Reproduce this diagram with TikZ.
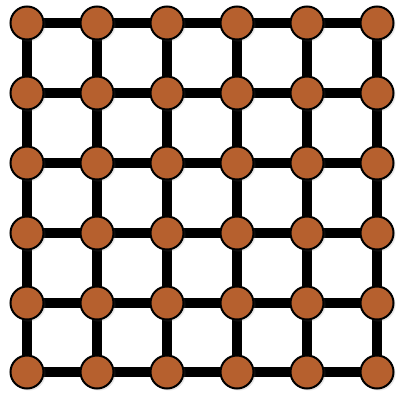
\documentclass[tikz,border=0pt]{standalone}
\usetikzlibrary{backgrounds,shadows}
\definecolor{nodefill}{RGB}{182,96,46}
\tikzset{
  gridnode/.style={circle, draw=black, line width=2pt, fill=nodefill, minimum size=33pt, inner sep=0pt,
    drop shadow={opacity=0.18, shadow xshift=2pt, shadow yshift=-2pt}},
  gridedge/.style={line width=10pt, draw=black}
}
\begin{document}
\begin{tikzpicture}[x=1pt,y=-1pt]
\useasboundingbox (0,0) rectangle (398,394);
\foreach \i/\x in {0/27,1/97,2/167,3/237,4/307,5/377}{
  \foreach \j/\y in {0/23,1/93,2/163,3/233,4/303,5/372}{
    \node[gridnode] (n-\i-\j) at (\x,\y) {};
  }
}
\begin{scope}[on background layer]
\foreach \i in {0,...,5}{
  \foreach \j [evaluate=\j as \k using int(\j+1)] in {0,...,4}{
    \draw[gridedge] (n-\i-\j.center) -- (n-\i-\k.center);
    \draw[gridedge] (n-\j-\i.center) -- (n-\k-\i.center);
  }
}
\end{scope}
\end{tikzpicture}
\end{document}
